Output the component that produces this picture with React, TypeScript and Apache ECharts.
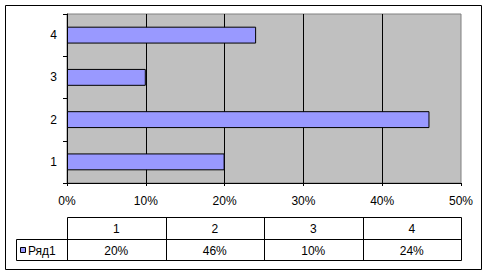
import React, { useEffect, useRef } from "react";
import * as echarts from "echarts";

const categories = ["1", "2", "3", "4"];
const values = [20, 46, 10, 24];
const seriesName = "Ряд1";
const axisMax = 50;
const axisInterval = 10;

const W = 492;
const H = 276;
const GRID = { left: 67, right: 31, top: 14, bottom: 93 };
const FONT = "'Liberation Sans', Arial, sans-serif";
const FS = 12;

export default function App() {
  const ref = useRef<HTMLDivElement>(null);
  useEffect(() => {
    if (!ref.current) return;
    const chart = echarts.init(ref.current, undefined, { renderer: "svg" });
    const pl = GRID.left;
    const pr = W - GRID.right;
    const colW = (pr - pl) / categories.length;
    const yTop = 217.5;
    const yMid = 239.5;
    const yBot = 260.5;
    const legL = 16.5;
    const graphic: any[] = [];
    graphic.push({
      type: "rect",
      shape: { x: 5.5, y: 5.5, width: 476, height: 264 },
      style: { fill: "none", stroke: "#000", lineWidth: 1 },
      silent: true,
    });
    const line = (x1: number, y1: number, x2: number, y2: number) => ({
      type: "line",
      shape: { x1, y1, x2, y2 },
      style: { stroke: "#000", lineWidth: 1 },
      silent: true,
    });
    graphic.push(line(pl + 0.5, yTop, pr + 0.5, yTop));
    graphic.push(line(legL, yMid, pr + 0.5, yMid));
    graphic.push(line(legL, yBot, pr + 0.5, yBot));
    graphic.push(line(legL, yMid, legL, yBot));
    for (let i = 0; i <= categories.length; i++) {
      const x = Math.round(pl + colW * i) + 0.5;
      graphic.push(line(x, yTop, x, yBot));
    }
    categories.forEach((c, i) => {
      const cx = pl + colW * (i + 0.5);
      graphic.push({
        type: "text",
        x: cx,
        y: (yTop + yMid) / 2 + 0.5,
        style: { text: c, fill: "#000", font: `${FS}px ${FONT}`, align: "center", verticalAlign: "middle" },
        silent: true,
      });
      graphic.push({
        type: "text",
        x: cx,
        y: (yMid + yBot) / 2 + 0.5,
        style: { text: `${values[i]}%`, fill: "#000", font: `${FS}px ${FONT}`, align: "center", verticalAlign: "middle" },
        silent: true,
      });
    });
    graphic.push({
      type: "rect",
      shape: { x: 20.5, y: 247.5, width: 5, height: 5 },
      style: { fill: "#9999ff", stroke: "#000", lineWidth: 1 },
      silent: true,
    });
    graphic.push({
      type: "text",
      x: 28,
      y: (yMid + yBot) / 2 + 0.5,
      style: { text: seriesName, fill: "#000", font: `${FS}px ${FONT}`, align: "left", verticalAlign: "middle" },
      silent: true,
    });

    chart.setOption({
      animation: false,
      backgroundColor: "#fff",
      grid: {
        ...GRID,
        show: true,
        backgroundColor: "#c0c0c0",
        borderColor: "#808080",
        borderWidth: 1,
        containLabel: false,
      },
      xAxis: {
        type: "value",
        min: 0,
        max: axisMax,
        interval: axisInterval,
        axisLine: { show: true, lineStyle: { color: "#000", width: 1 } },
        axisTick: { show: true, length: 3, lineStyle: { color: "#000" } },
        axisLabel: { formatter: "{value}%", color: "#000", fontSize: FS, fontFamily: FONT, margin: 12 },
        splitLine: { show: true, showMinLine: false, showMaxLine: false, lineStyle: { color: "#000", width: 1 } },
      },
      yAxis: {
        type: "category",
        data: categories,
        axisLine: { show: true, lineStyle: { color: "#000", width: 1 } },
        axisTick: { show: true, length: 4, alignWithLabel: false, lineStyle: { color: "#000" } },
        axisLabel: { color: "#000", fontSize: FS, fontFamily: FONT, margin: 10 },
        splitLine: { show: false },
      },
      series: [
        {
          type: "bar",
          name: seriesName,
          data: values,
          barWidth: "40%",
          itemStyle: { color: "#9999ff", borderColor: "#000", borderWidth: 1 },
        },
      ],
      graphic,
    });
    return () => chart.dispose();
  }, []);
  return (
    <div
      ref={ref}
      style={{ position: "absolute", left: 0, top: 0, width: W, height: H }}
    />
  );
}
